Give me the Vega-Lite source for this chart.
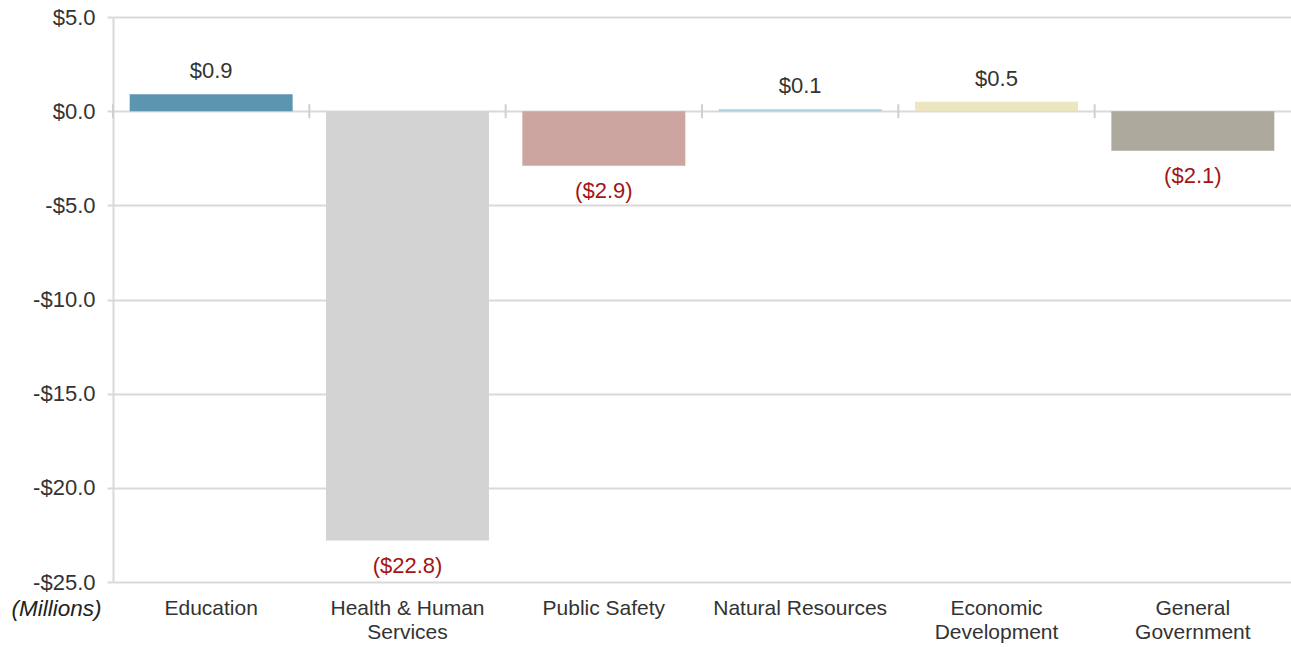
{
  "$schema": "https://vega.github.io/schema/vega-lite/v6.json",
  "width": 1178,
  "height": 565,
  "autosize": {"type": "none"},
  "padding": {"left": 113, "top": 17, "right": 0, "bottom": 65},
  "background": "white",
  "config": {
    "view": {"stroke": null},
    "font": "Liberation Sans"
  },
  "data": {
    "values": [
      {"category": "Education", "value": 0.9},
      {"category": "Health & Human Services", "value": -22.8},
      {"category": "Public Safety", "value": -2.9},
      {"category": "Natural Resources", "value": 0.1},
      {"category": "Economic Development", "value": 0.5},
      {"category": "General Government", "value": -2.1}
    ]
  },
  "transform": [
    {"calculate": "datum.value < 0 ? '($' + format(abs(datum.value), '.1f') + ')' : '$' + format(datum.value, '.1f')", "as": "label"}
  ],
  "encoding": {
    "x": {
      "field": "category",
      "type": "nominal",
      "sort": null,
      "scale": {"paddingInner": 0.17, "paddingOuter": 0.085},
      "axis": {
        "title": null,
        "domain": false,
        "ticks": false,
        "labelAngle": 0,
        "labelFontSize": 21,
        "labelColor": "#333333",
        "labelPadding": 15,
        "labelLineHeight": 24,
        "labelExpr": "datum.label == 'Health & Human Services' ? ['Health & Human', 'Services'] : datum.label == 'Economic Development' ? ['Economic', 'Development'] : datum.label == 'General Government' ? ['General', 'Government'] : datum.label"
      }
    }
  },
  "layer": [
    {
      "mark": {"type": "bar"},
      "encoding": {
        "y": {
          "field": "value",
          "type": "quantitative",
          "scale": {"domain": [-25, 5], "nice": false, "zero": true},
          "axis": {
            "values": [5, 0, -5, -10, -15, -20, -25],
            "labelExpr": "datum.value < 0 ? '-$' + format(abs(datum.value), '.1f') : '$' + format(datum.value, '.1f')",
            "labelFontSize": 22,
            "labelColor": "#333333",
            "labelPadding": 12,
            "tickSize": 6,
            "tickColor": "#d9d9d9",
            "tickWidth": 2,
            "domainColor": "#d9d9d9",
            "domainWidth": 2,
            "gridColor": "#d9d9d9",
            "gridWidth": 2,
            "title": "(Millions)",
            "titleAngle": 0,
            "titleFontStyle": "italic",
            "titleFontWeight": "normal",
            "titleFontSize": 22.5,
            "titleColor": "#222222",
            "titleAlign": "right",
            "titleBaseline": "middle",
            "titleX": -12,
            "titleY": 591
          }
        },
        "color": {
          "field": "category",
          "type": "nominal",
          "legend": null,
          "scale": {
            "domain": ["Education", "Health & Human Services", "Public Safety", "Natural Resources", "Economic Development", "General Government"],
            "range": ["#5b95b0", "#d4d3d4", "#cca5a0", "#a9d4dc", "#ece6c0", "#aca99c"]
          }
        }
      }
    },
    {
      "mark": {"type": "rule", "color": "#d0d0d0", "strokeWidth": 2, "xOffset": -16.7, "yOffset": -7, "y2Offset": 7},
      "encoding": {
        "x": {"field": "category", "type": "nominal", "sort": null, "bandPosition": 0},
        "y": {"datum": 0, "type": "quantitative"},
        "y2": {"datum": 0}
      }
    },
    {
      "transform": [{"filter": "datum.value >= 0"}],
      "mark": {"type": "text", "fontSize": 22, "color": "#333333", "baseline": "middle", "dy": -23},
      "encoding": {
        "y": {"field": "value", "type": "quantitative"},
        "text": {"field": "label"}
      }
    },
    {
      "transform": [{"filter": "datum.value < 0"}],
      "mark": {"type": "text", "fontSize": 22, "color": "#a31515", "baseline": "middle", "dy": 25},
      "encoding": {
        "y": {"field": "value", "type": "quantitative"},
        "text": {"field": "label"}
      }
    }
  ]
}
